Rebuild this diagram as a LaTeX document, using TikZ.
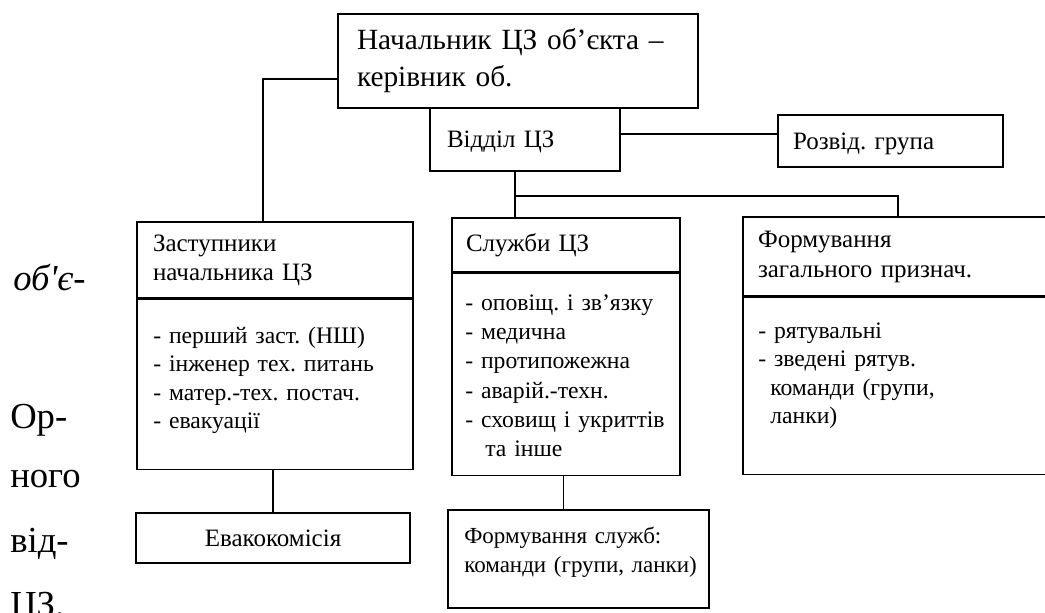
\documentclass[tikz,border=0pt]{standalone}
\usepackage{fontspec}
\setmainfont{Liberation Serif}
\newfontfamily\pagefont{Liberation Serif}
\usetikzlibrary{positioning}
\frenchspacing
\newcommand{\chieffont}{\fontsize{22pt}{27.75pt}\selectfont}
\newcommand{\boxfont}{\fontsize{18.75pt}{21.75pt}\selectfont}
\newcommand{\listfont}{\fontsize{17.75pt}{21.4pt}\selectfont}
\newcommand{\marginfont}{\pagefont\fontsize{27.5pt}{30pt}\selectfont}

\tikzset{
  frame/.style={draw, line width=1.2pt, inner ysep=0pt, align=left, font=\boxfont},
  listtext/.style={anchor=base west, inner sep=0pt, align=left, text width=250pt, font=\listfont},
  margintext/.style={anchor=base west, inner sep=0pt, font=\marginfont},
  wire/.style={line width=1.2pt},
}

\begin{document}
\begin{tikzpicture}[x=0.75pt, y=-0.75pt]
    \useasboundingbox (0,0) rectangle (1045,612);
    \clip (0,0) rectangle (1045,612);

    % Head of civil defence
    \node[frame, font=\chieffont, inner xsep=14.25pt, text width=241.5pt, minimum height=70.5pt] (chief) at (518,61) {Начальник ЦЗ об’єкта –\\керівник об.};

    % Department and reconnaissance
    \node[frame, inner xsep=12.75pt, text width=117pt, text depth=0pt, minimum height=47.25pt] (otdel) at (525,139.5) {Відділ ЦЗ};
    \node[frame, inner xsep=11.25pt, text width=146.25pt, text depth=0pt, minimum height=39pt] (rozvid) at (890.5,141) {Розвід. група};

    % Deputies
    \node[frame, inner xsep=12pt, text width=183pt, minimum height=57pt] (dephead) at (275,260) {Заступники\\начальника ЦЗ};
    \node[frame, minimum width=207pt, minimum height=127.5pt, below=0pt of dephead] (depbody) {};
    \node[listtext] (deplist) at (153,343) {- перший заст. (НШ)\\- інженер тех. питань\\- матер.-тех. постач.\\- евакуації};
    \node[frame, align=center, minimum width=205.5pt, minimum height=37.5pt] (evac) at (273,538) {Евакокомісія};

    % Services
    \node[frame, inner xsep=10.5pt, text width=150pt, minimum height=40.5pt] (svchead) at (566,245) {Служби ЦЗ};
    \node[frame, minimum width=171pt, minimum height=151.5pt, below=0pt of svchead] (svcbody) {};
    \node[listtext, font=\fontsize{17.75pt}{22pt}\selectfont] (svclist) at (465,310) {- оповіщ. і зв’язку\\- медична\\- протипожежна\\- аварій.-техн.\\- сховищ і укриттів\\\hspace*{15pt}та інше};
    \node[frame, minimum width=195.75pt, minimum height=73.5pt] (formsl) at (578.5,559) {};
    \node[listtext, font=\fontsize{17.25pt}{21.75pt}\selectfont] (formsltext) at (464,543) {Формування служб:\\команди (групи, ланки)};

    % General purpose units
    \node[frame, inner xsep=11.25pt, text width=210pt, minimum height=59.25pt, font=\fontsize{18.75pt}{22.5pt}\selectfont] (genhead) at (898,256.5) {Формування\\загального признач.};
    \node[frame, minimum width=232.5pt, minimum height=132.75pt, below=0pt of genhead] (genbody) {};
    \node[listtext] (genlist) at (758,338) {- рятувальні\\- зведені рятув.\\\hspace*{9pt}команди (групи,\\\hspace*{9pt}ланки)};

    % Page text at the left margin
    \node[margintext] (frag1) at (13,290) {\itshape об'є-};
    \node[margintext] (frag2) at (10,428) {Ор-};
    \node[margintext] (frag3) at (10,487) {ного};
    \node[margintext] (frag4) at (10,552) {від-};
    \node[margintext] (frag5) at (10,616) {ЦЗ.};

    % Connectors
    \coordinate (fork) at ([xshift=-7.5pt, yshift=-18pt]otdel.south);
    \draw[wire] ([yshift=-13.5pt]chief.west) -| ([xshift=-9pt]dephead.north);
    \draw[wire] ([yshift=4pt]otdel.east) -- ([yshift=4pt]otdel.east -| rozvid.west);
    \draw[wire] ([xshift=-7.5pt]otdel.south) -- (fork |- svchead.north);
    \draw[wire] (fork) -| (genhead.north);
    \draw[wire] (evac.north |- depbody.south) -- (evac.north);
    \draw[wire] ([xshift=-2pt]svcbody.south) -- ([xshift=-2pt]svcbody.south |- formsl.north);
\end{tikzpicture}
\end{document}
